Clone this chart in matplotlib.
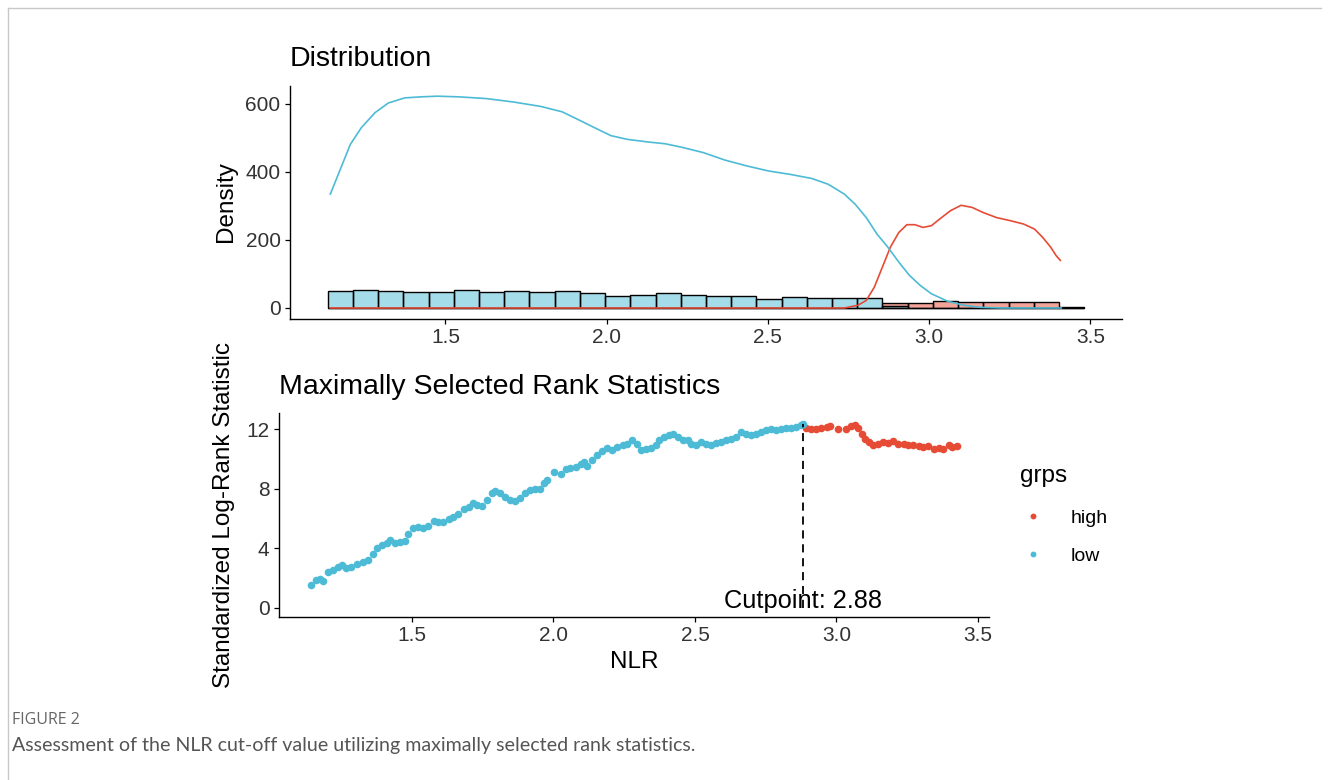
import matplotlib
matplotlib.use("Agg")
import matplotlib.pyplot as plt
from matplotlib.lines import Line2D

# ---------------- data ----------------
# histogram (30 bins)
bin_start = 1.135
bin_width = 0.0782
low_counts = [50, 53, 50, 48, 48, 53, 48, 51, 46, 49, 44, 34, 38, 43, 38,
              34, 34, 26, 32, 29, 28, 30, 7, 0, 0, 0, 0, 0, 0, 0]
high_counts = [0, 0, 0, 0, 0, 0, 0, 0, 0, 0, 0, 0, 0, 0, 0,
               0, 0, 0, 0, 0, 0, 0, 14, 15, 22, 19, 19, 17, 17, 4]

# density curves
low_dens_x = [1.143, 1.172, 1.205, 1.239, 1.281, 1.323, 1.374, 1.424, 1.475, 1.542,
              1.626, 1.710, 1.795, 1.862, 1.912, 1.963, 2.013, 2.064, 2.131, 2.182,
              2.232, 2.300, 2.367, 2.434, 2.502, 2.569, 2.636, 2.687, 2.737, 2.771,
              2.805, 2.838, 2.872, 2.906, 2.939, 2.973, 3.007, 3.057, 3.108, 3.158,
              3.226, 3.410]
low_dens_y = [335, 403, 481, 530, 574, 603, 618, 621, 623, 621,
              616, 606, 593, 577, 554, 530, 507, 496, 488, 483,
              473, 457, 435, 418, 403, 393, 381, 364, 335, 305,
              266, 218, 179, 135, 96, 66, 42, 20, 8, 2,
              0, 0]
high_dens_x = [1.143, 2.737, 2.779, 2.805, 2.830, 2.855, 2.880, 2.906, 2.931, 2.956,
               2.981, 3.007, 3.032, 3.066, 3.099, 3.133, 3.167, 3.209, 3.251, 3.293,
               3.327, 3.352, 3.377, 3.394, 3.407]
high_dens_y = [0, 0, 8, 22, 61, 120, 179, 222, 245, 245,
               237, 242, 261, 286, 302, 296, 281, 266, 257, 247,
               232, 208, 179, 154, 140]

# maximally selected rank statistics
low_x = [1.144, 1.162, 1.174, 1.185, 1.204, 1.221, 1.239, 1.251, 1.268, 1.286,
         1.304, 1.327, 1.345, 1.363, 1.375, 1.393, 1.410, 1.422, 1.440, 1.457,
         1.475, 1.487, 1.505, 1.522, 1.540, 1.558, 1.576, 1.593, 1.611, 1.629,
         1.646, 1.664, 1.682, 1.700, 1.715, 1.729, 1.747, 1.765, 1.783, 1.794,
         1.812, 1.830, 1.848, 1.865, 1.883, 1.901, 1.918, 1.936, 1.954, 1.966,
         1.978, 2.001, 2.025, 2.043, 2.060, 2.078, 2.096, 2.107, 2.119, 2.137,
         2.155, 2.173, 2.190, 2.208, 2.226, 2.244, 2.261, 2.279, 2.294, 2.309,
         2.326, 2.344, 2.362, 2.373, 2.391, 2.409, 2.424, 2.439, 2.456, 2.474,
         2.486, 2.504, 2.521, 2.539, 2.557, 2.574, 2.592, 2.610, 2.628, 2.645,
         2.663, 2.681, 2.699, 2.716, 2.734, 2.752, 2.770, 2.787, 2.805, 2.823,
         2.840, 2.858, 2.873, 2.882]
low_y = [1.52, 1.86, 1.90, 1.79, 2.38, 2.53, 2.75, 2.87, 2.64, 2.75,
         2.93, 3.09, 3.20, 3.58, 3.99, 4.21, 4.32, 4.52, 4.32, 4.39,
         4.48, 4.93, 5.33, 5.40, 5.37, 5.50, 5.82, 5.73, 5.73, 5.93,
         6.11, 6.33, 6.60, 6.78, 7.07, 6.89, 6.85, 7.23, 7.68, 7.83,
         7.68, 7.45, 7.23, 7.16, 7.38, 7.68, 7.90, 7.97, 8.01, 8.35,
         8.57, 9.13, 9.02, 9.31, 9.40, 9.46, 9.69, 9.80, 9.53, 9.91,
         10.25, 10.52, 10.74, 10.63, 10.77, 10.97, 11.03, 11.26, 11.03, 10.58,
         10.70, 10.74, 10.97, 11.26, 11.48, 11.59, 11.66, 11.48, 11.26, 11.30,
         11.03, 10.97, 11.14, 11.03, 10.97, 11.10, 11.14, 11.26, 11.32, 11.48,
         11.81, 11.70, 11.64, 11.70, 11.81, 11.93, 11.99, 11.93, 12.04, 12.08,
         12.08, 12.15, 12.26, 12.37]
high_x = [2.894, 2.911, 2.929, 2.947, 2.965, 2.977, 3.006, 3.035, 3.053, 3.067,
          3.077, 3.089, 3.100, 3.115, 3.130, 3.148, 3.166, 3.183, 3.201, 3.219,
          3.237, 3.254, 3.272, 3.290, 3.307, 3.325, 3.343, 3.361, 3.378, 3.396,
          3.410, 3.426]
high_y = [12.08, 12.04, 12.04, 12.08, 12.15, 12.19, 11.99, 12.04, 12.19, 12.31,
          12.08, 11.70, 11.37, 11.14, 10.92, 11.03, 11.14, 11.10, 11.19, 11.03,
          11.03, 10.92, 10.92, 10.85, 10.81, 10.87, 10.65, 10.74, 10.70, 10.97,
          10.81, 10.85]
cutpoint = 2.88
max_stat = 12.37

top_yticks = [0, 200, 400, 600]
top_xticks = [1.5, 2.0, 2.5, 3.0, 3.5]
bot_yticks = [0, 4, 8, 12]
bot_xticks = [1.5, 2.0, 2.5, 3.0, 3.5]

# ---------------- style ----------------
RED = "#E64B35"
BLUE = "#4DBBD5"
W, H, DPI = 1329, 780, 100
plt.rcParams["font.family"] = ["Liberation Sans", "DejaVu Sans"]

fig = plt.figure(figsize=(W / DPI, H / DPI), dpi=DPI)


def fx(px):
    return px / W


def fy(py):
    return 1 - py / H


def style_axes(ax):
    for s in ["top", "right"]:
        ax.spines[s].set_visible(False)
    for s in ["left", "bottom"]:
        ax.spines[s].set_linewidth(1.0)
        ax.spines[s].set_color("black")
    ax.tick_params(axis="both", length=3.8, width=0.9, color="black",
                   labelsize=15, labelcolor="#333333", pad=3)


# ---- top panel ----
ax1 = fig.add_axes([fx(290), fy(318.5), fx(1121.6 - 290), (318.5 - 85.6) / H])
lefts = [bin_start + i * bin_width for i in range(len(low_counts))]
ax1.bar(lefts, high_counts, width=bin_width, align="edge", color=RED, alpha=0.5,
        edgecolor="none")
ax1.bar(lefts, high_counts, width=bin_width, align="edge", fill=False,
        edgecolor="black", linewidth=1.0)
ax1.bar(lefts, low_counts, width=bin_width, align="edge", color=BLUE, alpha=0.5,
        edgecolor="none")
ax1.bar(lefts, low_counts, width=bin_width, align="edge", fill=False,
        edgecolor="black", linewidth=1.0)
ax1.plot(high_dens_x, high_dens_y, color=RED, lw=1.2)
ax1.plot(low_dens_x, low_dens_y, color=BLUE, lw=1.2)
ax1.set_xlim(1.018, 3.597)
ax1.set_ylim(-30.9, 654.1)
ax1.set_xticks(top_xticks)
ax1.set_xticklabels([f"{v:.1f}" for v in top_xticks])
ax1.set_yticks(top_yticks)
style_axes(ax1)
ax1.set_ylabel("Density", fontsize=17.5, labelpad=6)
ax1.set_title("Distribution", loc="left", fontsize=20.5, pad=14)

# ---- bottom panel ----
ax2 = fig.add_axes([fx(279), fy(617), fx(989 - 279), (617 - 413) / H])
ax2.scatter(high_x, high_y, s=30, color=RED, linewidths=0, label="high")
ax2.scatter(low_x, low_y, s=30, color=BLUE, linewidths=0, label="low")
ax2.plot([cutpoint, cutpoint], [0, max_stat], color="black", lw=1.3,
         linestyle=(0, (4.5, 3.2)))
ax2.text(cutpoint, 0.45, f"Cutpoint: {cutpoint:.2f}", ha="center", va="center",
         fontsize=18.3, color="black")
ax2.set_xlim(1.030, 3.539)
ax2.set_ylim(-0.63, 13.09)
ax2.set_xticks(bot_xticks)
ax2.set_xticklabels([f"{v:.1f}" for v in bot_xticks])
ax2.set_yticks(bot_yticks)
style_axes(ax2)
ax2.set_xlabel("NLR", fontsize=17.5, labelpad=4)
ax2.set_ylabel("Standardized Log-Rank Statistic", fontsize=17.5, labelpad=8)
ax2.set_title("Maximally Selected Rank Statistics", loc="left", fontsize=20.5, pad=14)

handles = [Line2D([], [], marker="o", linestyle="none", color=RED, markersize=3.2),
           Line2D([], [], marker="o", linestyle="none", color=BLUE, markersize=3.2)]
leg = fig.legend(handles, ["high", "low"], title="grps", loc="upper left",
                 bbox_to_anchor=(fx(1012), fy(457)), frameon=False,
                 fontsize=14, title_fontsize=17.5, handlelength=1.4,
                 handletextpad=1.2, labelspacing=1.05, alignment="left",
                 borderaxespad=0)
leg._legend_box.sep = 16

# ---- frame + caption ----
fig.add_artist(Line2D([fx(8), fx(8)], [fy(8), 0], color="#c8c8c8", lw=1.0))
fig.add_artist(Line2D([fx(8), fx(1321)], [fy(8), fy(8)], color="#c8c8c8", lw=1.0))
fig.text(fx(12), fy(720), "FIGURE 2", fontsize=11.5, color="#666666",
         family=["Open Sans", "DejaVu Sans"], va="center", ha="left")
fig.text(fx(12), fy(745),
         "Assessment of the NLR cut-off value utilizing maximally selected rank statistics.",
         fontsize=14.15, color="#555555", family=["Lato", "DejaVu Sans"],
         va="center", ha="left")

fig.savefig("out.png", dpi=DPI)
